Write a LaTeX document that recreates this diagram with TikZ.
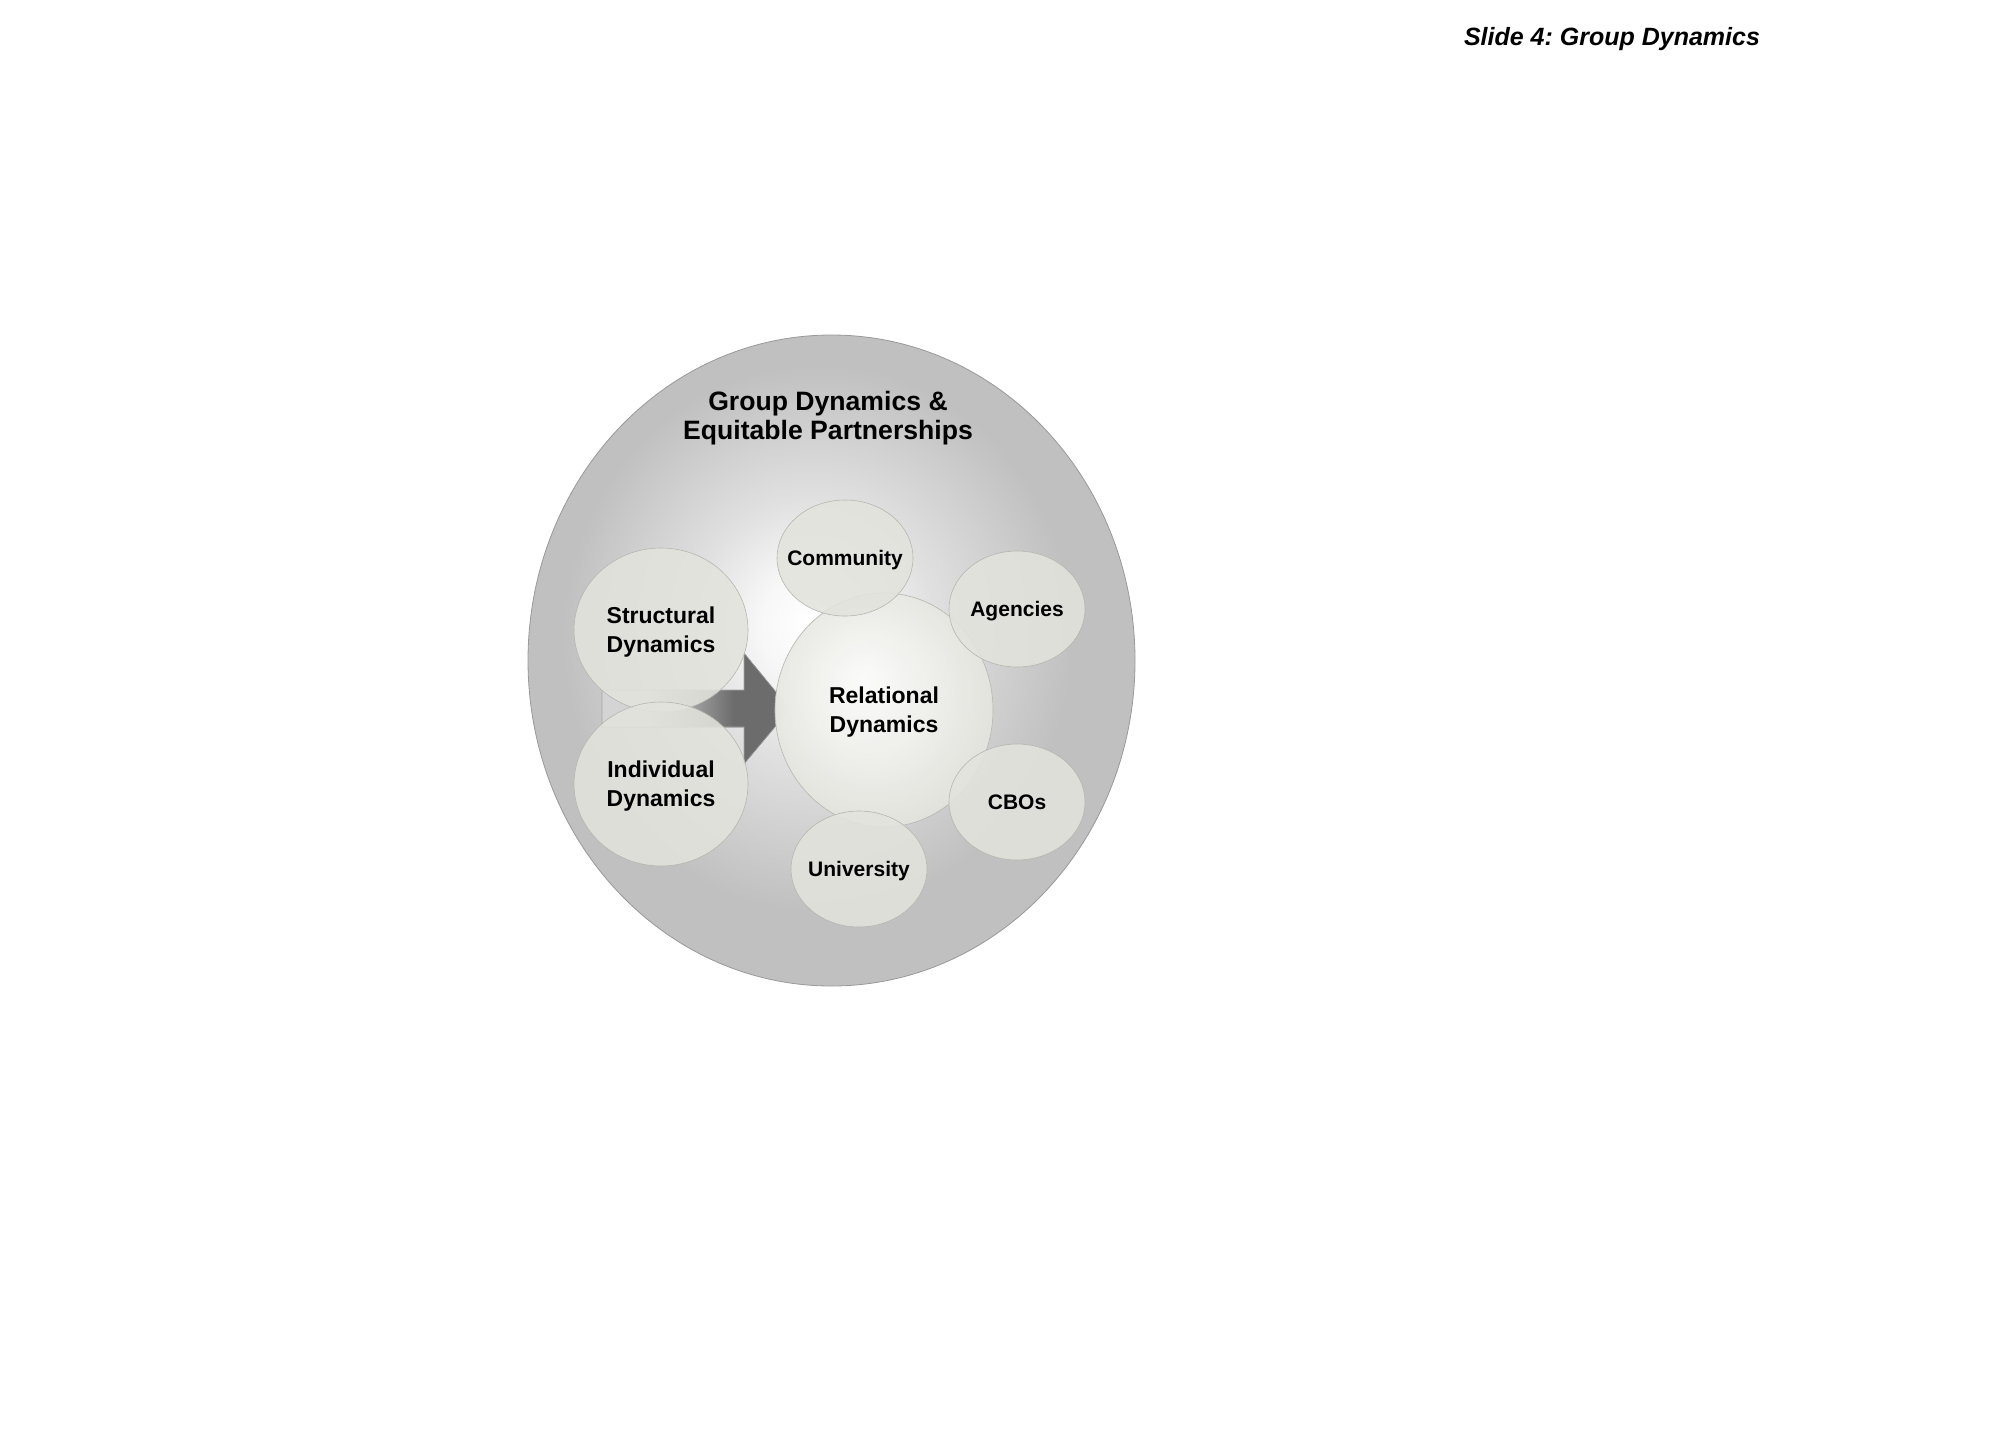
\documentclass[tikz,border=0pt]{standalone}
\usepackage{fontspec}
\setmainfont{Liberation Sans}
\usetikzlibrary{shapes.geometric}

\definecolor{ringgray}{RGB}{192,192,192}
\definecolor{bubblefill}{RGB}{227,227,221}
\definecolor{bubbleline}{RGB}{182,182,176}
\definecolor{arrowdark}{RGB}{108,108,108}
\definecolor{arrowlight}{RGB}{212,212,212}

\pgfdeclareradialshading{glow}{\pgfpoint{-2bp}{3bp}}{color(0bp)=(white); color(4bp)=(white!97!black); color(10bp)=(white!88!black); color(21bp)=(ringgray); color(50bp)=(ringgray)}
\pgfdeclareradialshading{relglow}{\pgfpoint{-5bp}{6bp}}{color(0bp)=(white); color(28bp)=(bubblefill); color(50bp)=(bubblefill)}
\pgfdeclarehorizontalshading{arrowfade}{100bp}{color(0bp)=(arrowlight); color(38bp)=(arrowlight); color(60bp)=(arrowdark); color(100bp)=(arrowdark)}

\tikzset{
  ring/.style={ellipse, minimum width=303.5pt, minimum height=325.5pt, inner sep=0pt,
    shading=glow, draw=gray!80, line width=0.4pt},
  bubble/.style={ellipse, minimum width=68pt, minimum height=58pt, inner sep=-10pt,
    fill=bubblefill, fill opacity=0.88, text opacity=1, draw=bubbleline, line width=0.3pt,
    align=center, text depth=0pt, font=\fontsize{10.5}{13}\selectfont\bfseries},
  bigbubble/.style={bubble, minimum width=87pt, minimum height=82pt,
    font=\fontsize{11.5}{14.5}\selectfont\bfseries},
}

\begin{document}
\begin{tikzpicture}[x=0.5pt, y=-0.5pt]
    \useasboundingbox (0,0) rectangle (2016,1440);

    % slide caption
    \node[anchor=base, font=\fontsize{12.5}{14}\selectfont\bfseries\itshape] (slide) at (1612,45)
      {\frenchspacing Slide 4: Group Dynamics};

    % outer ring and its title
    \node[ring] (ring) at (831.5,660.5) {};
    \node[align=center, font=\fontsize{13.3}{14.5}\selectfont\bfseries] (title) at (828,418)
      {Group Dynamics \&\\Equitable Partnerships};

    % block arrow into the centre
    \fill[shading=arrowfade, draw=gray!70, line width=0.3pt]
      (602,690) -- (744,690) -- (744,653) -- (790,709) -- (744,764) -- (744,727) -- (602,727) -- cycle;

    % centre and partners
    \node[bigbubble, minimum width=109pt, minimum height=117pt, shading=relglow] (relational) at (884,710)
      {Relational\\Dynamics};
    \node[bubble] (community)  at (845,558)  {Community};
    \node[bubble] (agencies)   at (1017,609) {Agencies};
    \node[bubble] (cbos)       at (1017,802) {CBOs};
    \node[bubble] (university) at (859,869)  {University};

    % left side
    \node[bigbubble] (structural) at (661,630) {Structural\\Dynamics};
    \node[bigbubble] (individual) at (661,784) {Individual\\Dynamics};
\end{tikzpicture}
\end{document}
